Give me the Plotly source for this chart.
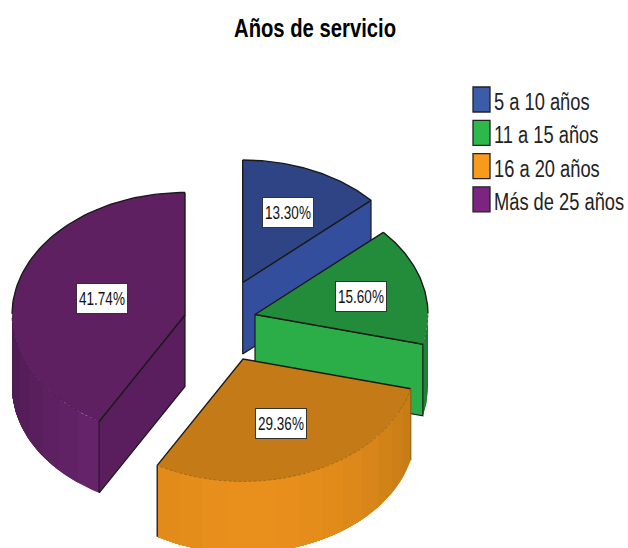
import numpy as np
import plotly.graph_objects as go

categories = ["5 a 10 años", "11 a 15 años", "16 a 20 años", "Más de 25 años"]
percent = [13.30, 15.60, 29.36, 41.74]
title_text = "Años de servicio"

# styling / geometry of the drawing
apex = [(242.7, 282.5), (255, 314.5), (243, 359), (185, 315)]
RX, RY, DEPTH = 173.0, 122.5, 71.5
top_col = ["#2F4484", "#238C3B", "#C47A16", "#5E2060"]
cut_col = ["#334E9C", "#2BAE48", None, "#5A1E5E"]
wall_hi = ["#34509F", "#2BAE48", "#E88F1C", "#6C2670"]
wall_lo = ["#2A3F7C", "#1F7A34", "#BC7614", "#4E1A52"]
seam_col = ["#222222", "#1a6a2e", "#9a6412", "#4a184e"]
legend_col = ["#3C5BA9", "#2DB84C", "#F89B1C", "#7B2580"]
label_xy = [(288, 212), (361, 296), (281, 423), (102, 298)]
FONT = "Liberation Sans, Arial, sans-serif"
DARK = "#1a1a1a"

fig = go.Figure()


def poly(xs, ys, color, line=None, width=1.0):
    fig.add_trace(go.Scatter(
        x=list(xs), y=list(ys), mode="lines", fill="toself", fillcolor=color,
        line=dict(color=line or color, width=width if line else 0),
        hoverinfo="skip", showlegend=False))


def outline(xs, ys, width=1.3, dash=None, color=DARK):
    fig.add_trace(go.Scatter(
        x=list(xs), y=list(ys), mode="lines",
        line=dict(color=color, width=width, dash=dash),
        hoverinfo="skip", showlegend=False))


def ell(c, deg):
    a = np.radians(deg)
    return c[0] + RX * np.sin(a), c[1] - RY * np.cos(a)


def mix(c1, c2, t):
    a = [int(c1[i:i + 2], 16) for i in (1, 3, 5)]
    b = [int(c2[i:i + 2], 16) for i in (1, 3, 5)]
    return "#%02x%02x%02x" % tuple(int(round(p + (q - p) * t)) for p, q in zip(a, b))


edges = np.concatenate([[0], np.cumsum(percent)]) * 3.6
for i in [3, 0, 1, 2]:
    c = apex[i]
    a0, a1 = edges[i], edges[i + 1]
    # outer wall (only the part facing the viewer, 90..270 deg)
    w0, w1 = max(a0, 90), min(a1, 270)
    if w1 > w0:
        steps = max(2, int((w1 - w0) / 8))
        grid = np.linspace(w0, w1, steps + 1)
        # each band runs on to the end of the wall and is overpainted by the next: no seams
        for g0, g1 in zip(grid[:-1], grid[1:]):
            mid = (g0 + g1) / 2
            shade = max(0.0, np.cos(np.radians(mid - 178))) ** 1.3
            col = mix(wall_lo[i], wall_hi[i], shade)
            arc = np.linspace(g0, w1, 40)
            x, y = ell(c, arc)
            poly(np.r_[x, x[::-1], x[0]], np.r_[y, y[::-1] + DEPTH, y[0]], col)
    # cut face
    if cut_col[i]:
        ang = a0 if i == 3 else a1
        ex, ey = ell(c, ang)
        poly([c[0], ex, ex, c[0], c[0]],
             [c[1], ey, ey + DEPTH, c[1] + DEPTH, c[1]], cut_col[i], DARK, 1.2)
    # top face
    arc = np.linspace(a0, a1, 90)
    x, y = ell(c, arc)
    poly(np.r_[c[0], x, c[0]], np.r_[c[1], y, c[1]], top_col[i])
    # straight edges
    outline([x[0], c[0], x[-1]], [y[0], c[1], y[-1]], 1.4)
    # arc: dark on the far silhouette, faint where it meets the wall
    back = (arc <= 90) | (arc >= 270)
    if back.any():
        outline(x[back], y[back], 1.4)
    if (~back).any():
        outline(x[~back], y[~back], 0.8, "3px,2px", seam_col[i])
    if i == 2:
        outline([x[0], x[0]], [y[0], y[0] + DEPTH], 1.0, None, "#8a5810")
        outline([x[-1], x[-1]], [y[-1], y[-1] + DEPTH], 1.3)

annotations = [dict(
    text=f"<b>{title_text}</b>", x=315, y=28, xref="x", yref="y", showarrow=False,
    font=dict(family=FONT, size=25, color="#000000"))]

for v, (lx, ly) in zip(percent, label_xy):
    annotations.append(dict(
        text=f"{v:.2f}%", x=lx, y=ly, xref="x", yref="y", showarrow=False,
        width=50, height=29, align="center", valign="middle",
        bgcolor="#ffffff", bordercolor="#333333", borderwidth=1, borderpad=0,
        font=dict(family=FONT, size=18, color="#111111")))

shapes = []
for t, col, k in zip(categories, legend_col, range(4)):
    y0 = 87 + 33.3 * k
    shapes.append(dict(type="rect", x0=473, x1=490, y0=y0, y1=y0 + 25, xref="x", yref="y",
                       fillcolor=col, line=dict(color="#222222", width=1.3)))
    annotations.append(dict(
        text=t, x=493, y=y0 + 15, xref="x", yref="y", xanchor="left", showarrow=False,
        width=133, align="left", borderpad=0,
        font=dict(family=FONT, size=23, color="#222222")))

fig.update_layout(
    width=628, height=548, margin=dict(l=0, r=0, t=0, b=0),
    paper_bgcolor="#ffffff", plot_bgcolor="#ffffff", showlegend=False,
    xaxis=dict(range=[0, 628], visible=False, fixedrange=True),
    yaxis=dict(range=[548, 0], visible=False, fixedrange=True),
    annotations=annotations, shapes=shapes)

# Remove the page margin and condense the text (the reference uses tall, narrow lettering).
post = """
document.body.style.margin = '0';
document.querySelectorAll('.annotation-text').forEach(function (el) {
  var size = parseFloat(el.style.fontSize);
  var scale = size < 20 ? 0.75 : (size === 23 ? 0.795 : 0.81);
  var len = el.getComputedTextLength();
  el.setAttribute('textLength', len * scale);
  el.setAttribute('lengthAdjust', 'spacingAndGlyphs');
});
"""
fig.write_html("out.html", config=dict(displayModeBar=False), post_script=post)
